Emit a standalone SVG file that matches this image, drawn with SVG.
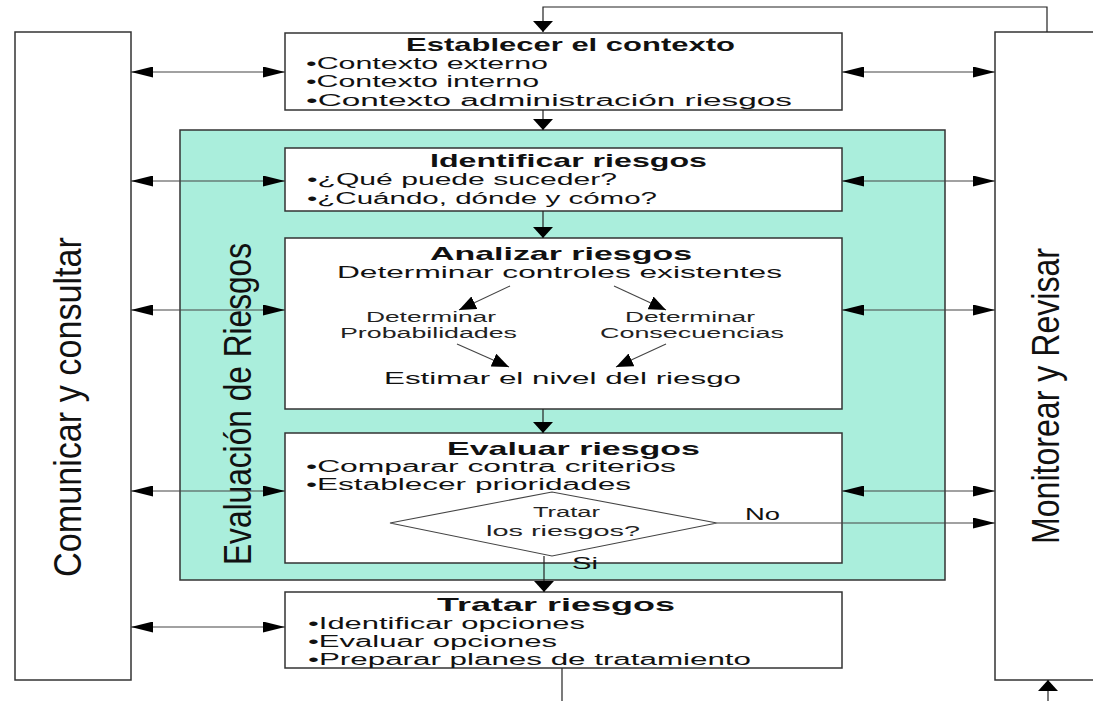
<svg xmlns="http://www.w3.org/2000/svg" width="1093" height="701" viewBox="0 0 1093 701">
<style>
.bx{fill:#fff;stroke:#333;stroke-width:1.5}
.tl{fill:#aaeedc;stroke:#333;stroke-width:1.5}
.t{font-family:"Liberation Sans",Arial,sans-serif;fill:#111;font-size:16px}
.h{font-weight:bold;font-size:19px}
.m{font-size:17px}
.s{font-size:14px;fill:#222}
.v{font-size:38px}
.c{fill:none;stroke:#222;stroke-width:1.2}
.ch{fill:none;stroke:#444;stroke-width:1.1}
</style>
<defs>
<marker id="ah" markerUnits="userSpaceOnUse" markerWidth="22" markerHeight="11" refX="22" refY="5.5" orient="auto-start-reverse"><path d="M0,0 L22,5.5 L0,11 z" fill="#000"/></marker>
<marker id="av" markerUnits="userSpaceOnUse" markerWidth="11" markerHeight="20" refX="11" refY="10" orient="auto"><path d="M0,0 L11,10 L0,20 z" fill="#000"/></marker>
<marker id="ad" markerUnits="userSpaceOnUse" markerWidth="17" markerHeight="14" refX="17" refY="7" orient="auto"><path d="M0,0 L17,7 L0,14 z" fill="#000"/></marker>
</defs>
<g id="comunicar">
<rect class="bx" x="15" y="32" width="116" height="648"/>
<text class="t v" transform="translate(81,407) rotate(-90)" text-anchor="middle" textLength="340" lengthAdjust="spacingAndGlyphs">Comunicar y consultar</text>
</g>
<g id="monitorear">
<rect class="bx" x="995" y="32" width="110" height="648"/>
<text class="t v" transform="translate(1059,396) rotate(-90)" text-anchor="middle" textLength="296" lengthAdjust="spacingAndGlyphs">Monitorear y Revisar</text>
</g>
<g id="evaluacion">
<rect class="tl" x="180" y="130" width="765" height="450"/>
<text class="t v" transform="translate(251,404) rotate(-90)" text-anchor="middle" textLength="322" lengthAdjust="spacingAndGlyphs">Evaluación de Riesgos</text>
</g>
<g id="establecer">
<rect class="bx" x="285" y="33" width="557" height="77"/>
<text class="t h" x="406" y="51" textLength="329" lengthAdjust="spacingAndGlyphs">Establecer el contexto</text>
<text class="t" x="306" y="69" textLength="242" lengthAdjust="spacingAndGlyphs">•Contexto externo</text>
<text class="t" x="306" y="87" textLength="233" lengthAdjust="spacingAndGlyphs">•Contexto interno</text>
<text class="t" x="306" y="106" textLength="486" lengthAdjust="spacingAndGlyphs">•Contexto administración riesgos</text>
</g>
<g id="identificar">
<rect class="bx" x="285" y="148" width="557" height="63"/>
<text class="t h" x="430" y="167" textLength="277" lengthAdjust="spacingAndGlyphs">Identificar riesgos</text>
<text class="t" x="307" y="185" textLength="310" lengthAdjust="spacingAndGlyphs">•¿Qué puede suceder?</text>
<text class="t" x="307" y="204" textLength="350" lengthAdjust="spacingAndGlyphs">•¿Cuándo, dónde y cómo?</text>
</g>
<g id="analizar">
<rect class="bx" x="285" y="238" width="557" height="171"/>
<text class="t h" x="430" y="260" textLength="262" lengthAdjust="spacingAndGlyphs">Analizar riesgos</text>
<text class="t m" x="337" y="278" textLength="445" lengthAdjust="spacingAndGlyphs">Determinar controles existentes</text>
<text class="t s" x="366" y="322" textLength="130" lengthAdjust="spacingAndGlyphs">Determinar</text>
<text class="t s" x="340" y="338" textLength="177" lengthAdjust="spacingAndGlyphs">Probabilidades</text>
<text class="t s" x="625" y="322" textLength="130" lengthAdjust="spacingAndGlyphs">Determinar</text>
<text class="t s" x="600" y="338" textLength="184" lengthAdjust="spacingAndGlyphs">Consecuencias</text>
<text class="t m" x="384" y="384" textLength="357" lengthAdjust="spacingAndGlyphs">Estimar el nivel del riesgo</text>
</g>
<g id="evaluar">
<rect class="bx" x="285" y="433" width="557" height="130"/>
<text class="t h" x="447" y="455" textLength="253" lengthAdjust="spacingAndGlyphs">Evaluar riesgos</text>
<text class="t" x="306" y="472" textLength="370" lengthAdjust="spacingAndGlyphs">•Comparar contra criterios</text>
<text class="t" x="306" y="490" textLength="325" lengthAdjust="spacingAndGlyphs">•Establecer prioridades</text>
</g>
<g id="decision">
<polygon points="390,523 552,492 717,523 552,556" fill="#fff" stroke="#444" stroke-width="1.1"/>
<text class="t s" x="533" y="517" textLength="67" lengthAdjust="spacingAndGlyphs">Tratar</text>
<text class="t s" x="486" y="536" textLength="154" lengthAdjust="spacingAndGlyphs">los riesgos?</text>
</g>
<g id="tratar">
<rect class="bx" x="285" y="592" width="557" height="76"/>
<text class="t h" x="437" y="611" textLength="238" lengthAdjust="spacingAndGlyphs">Tratar riesgos</text>
<text class="t" x="308" y="629" textLength="277" lengthAdjust="spacingAndGlyphs">•Identificar opciones</text>
<text class="t" x="308" y="647" textLength="249" lengthAdjust="spacingAndGlyphs">•Evaluar opciones</text>
<text class="t" x="308" y="665" textLength="443" lengthAdjust="spacingAndGlyphs">•Preparar planes de tratamiento</text>
</g>
<g id="connectors">
<polyline class="c" points="1047,32 1047,7 543,7 543,32" marker-end="url(#av)"/>
<line class="c" x1="543" y1="110" x2="543" y2="130" marker-end="url(#av)"/>
<line class="c" x1="543" y1="211" x2="543" y2="238" marker-end="url(#av)"/>
<line class="c" x1="543" y1="409" x2="543" y2="433" marker-end="url(#av)"/>
<line class="c" x1="544" y1="556" x2="544" y2="592" marker-end="url(#av)"/>
<line class="c" x1="562" y1="668" x2="562" y2="701"/>
<line class="c" x1="1048" y1="701" x2="1048" y2="680" marker-end="url(#av)"/>
<line class="ch" x1="131" y1="72" x2="285" y2="72" marker-start="url(#ah)" marker-end="url(#ah)"/>
<line class="ch" x1="131" y1="181" x2="285" y2="181" marker-start="url(#ah)" marker-end="url(#ah)"/>
<line class="ch" x1="131" y1="310" x2="285" y2="310" marker-start="url(#ah)" marker-end="url(#ah)"/>
<line class="ch" x1="131" y1="491" x2="285" y2="491" marker-start="url(#ah)" marker-end="url(#ah)"/>
<line class="ch" x1="131" y1="627" x2="285" y2="627" marker-start="url(#ah)" marker-end="url(#ah)"/>
<line class="ch" x1="842" y1="72" x2="995" y2="72" marker-start="url(#ah)" marker-end="url(#ah)"/>
<line class="ch" x1="842" y1="181" x2="995" y2="181" marker-start="url(#ah)" marker-end="url(#ah)"/>
<line class="ch" x1="842" y1="310" x2="995" y2="310" marker-start="url(#ah)" marker-end="url(#ah)"/>
<line class="ch" x1="842" y1="491" x2="995" y2="491" marker-start="url(#ah)" marker-end="url(#ah)"/>
<line class="ch" x1="717" y1="523" x2="995" y2="523" marker-end="url(#ah)"/>
<line class="ch" x1="510" y1="286" x2="459" y2="310" marker-end="url(#ad)"/>
<line class="ch" x1="614" y1="286" x2="666" y2="310" marker-end="url(#ad)"/>
<line class="ch" x1="457" y1="344" x2="509" y2="367" marker-end="url(#ad)"/>
<line class="ch" x1="666" y1="344" x2="616" y2="367" marker-end="url(#ad)"/>
<text class="t" x="745" y="520" textLength="35" lengthAdjust="spacingAndGlyphs">No</text>
<text class="t" x="572" y="569" textLength="26" lengthAdjust="spacingAndGlyphs">Si</text>
</g>
</svg>
